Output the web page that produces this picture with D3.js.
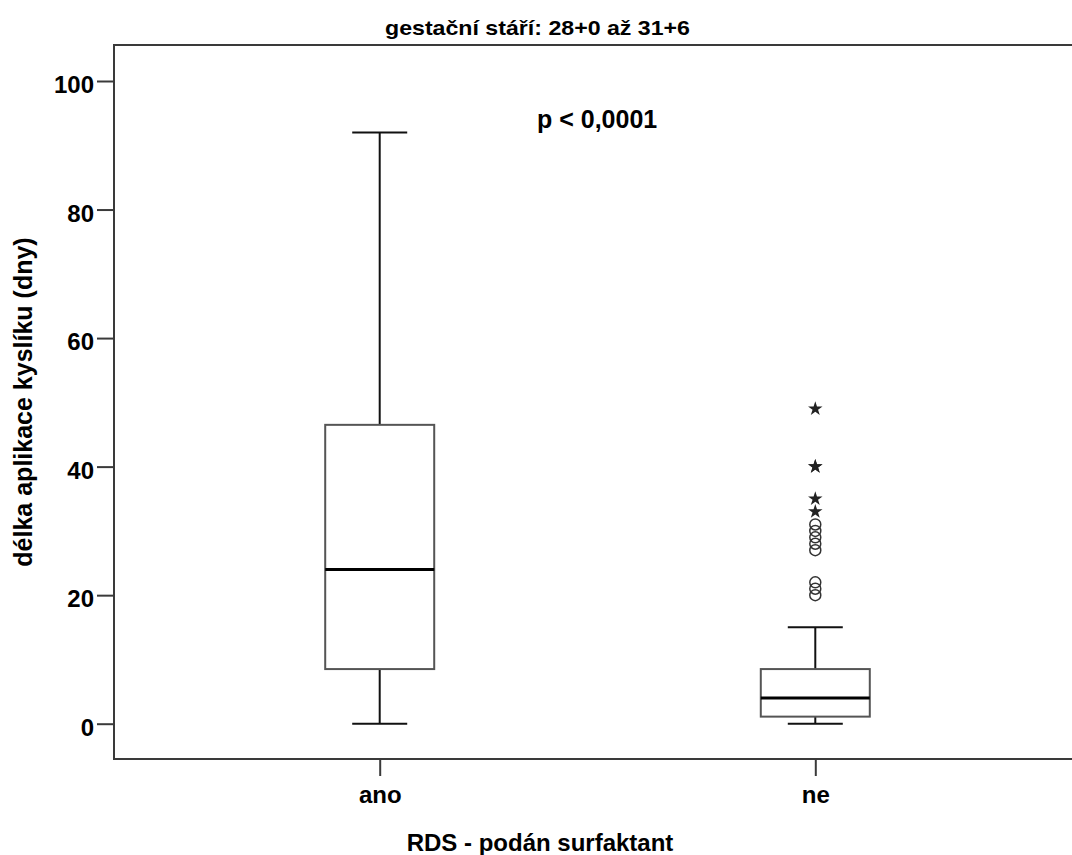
<!DOCTYPE html>
<html>
<head>
<meta charset="utf-8">
<script src="https://cdn.jsdelivr.net/npm/d3@7"></script>
<style>
  body { margin: 0; background: #fff; }
  svg { display: block; font-family: "Liberation Sans", Arial, sans-serif; font-weight: bold; }
</style>
</head>
<body>
<svg id="chart" width="1072" height="855"></svg>
<script>
// data
const groups = ['ano', 'ne'];
const boxMin = [0, 0];
const boxQ1 = [8.5, 1.1];
const boxMedian = [24, 4];
const boxQ3 = [46.5, 8.5];
const boxMax = [92, 15];
const circleOutliers = [20, 21, 22, 27, 28, 29, 30, 31];   // group 'ne'
const starOutliers = [33, 35, 40, 40, 49];                  // group 'ne'
const yTicks = [0, 20, 40, 60, 80, 100];

const titleText = 'gestační stáří: 28+0 až 31+6';
const noteText = 'p < 0,0001';
const xLabel = 'RDS - podán surfaktant';
const yLabel = 'délka aplikace kyslíku (dny)';

const LEFT = 114, TOP = 45, BOTTOM = 759, RIGHT = 1081;
const BOXW = 109, CAPW = 55, TICK = 17;

const svg = d3.select('#chart');

const y = d3.scaleLinear().domain([0, 100]).range([723.7, 81]);
const x = d3.scalePoint().domain(groups).range([LEFT, RIGHT]).padding(0.61);

const boxes = groups.map((g, i) => ({
  g, min: boxMin[i], q1: boxQ1[i], med: boxMedian[i], q3: boxQ3[i], max: boxMax[i]
}));

// frame
svg.append('rect')
  .attr('x', LEFT).attr('y', TOP)
  .attr('width', RIGHT - LEFT + 20).attr('height', BOTTOM - TOP)
  .attr('fill', 'none').attr('stroke', '#3a3a3a').attr('stroke-width', 2);

// y axis
const yAxis = svg.append('g')
  .attr('transform', `translate(${LEFT},0)`)
  .call(d3.axisLeft(y).tickValues(yTicks).tickSize(TICK).tickPadding(3).tickSizeOuter(0));
yAxis.select('.domain').remove();
yAxis.selectAll('.tick line').attr('stroke', '#3a3a3a').attr('stroke-width', 2);
yAxis.selectAll('.tick text')
  .attr('font-size', 24).attr('font-family', '"Liberation Sans", Arial, sans-serif')
  .attr('font-weight', 'bold').attr('fill', '#000')
  .attr('dy', '0.7em').attr('y', -5);

// x axis
const xAxis = svg.append('g')
  .attr('transform', `translate(0,${BOTTOM})`)
  .call(d3.axisBottom(x).tickSize(TICK).tickPadding(10).tickSizeOuter(0));
xAxis.select('.domain').remove();
xAxis.selectAll('.tick line').attr('stroke', '#3a3a3a').attr('stroke-width', 2);
xAxis.selectAll('.tick text')
  .attr('font-size', 24).attr('font-family', '"Liberation Sans", Arial, sans-serif')
  .attr('font-weight', 'bold').attr('fill', '#000');

// boxes
const bg = svg.selectAll('g.box').data(boxes).join('g').attr('class', 'box');

bg.append('line')
  .attr('x1', d => x(d.g)).attr('x2', d => x(d.g))
  .attr('y1', d => y(d.max)).attr('y2', d => y(d.q3))
  .attr('stroke', '#111').attr('stroke-width', 2);
bg.append('line')
  .attr('x1', d => x(d.g)).attr('x2', d => x(d.g))
  .attr('y1', d => y(d.q1)).attr('y2', d => y(d.min))
  .attr('stroke', '#111').attr('stroke-width', 2);
bg.append('line')
  .attr('x1', d => x(d.g) - CAPW / 2).attr('x2', d => x(d.g) + CAPW / 2)
  .attr('y1', d => y(d.max)).attr('y2', d => y(d.max))
  .attr('stroke', '#111').attr('stroke-width', 2);
bg.append('line')
  .attr('x1', d => x(d.g) - CAPW / 2).attr('x2', d => x(d.g) + CAPW / 2)
  .attr('y1', d => y(d.min)).attr('y2', d => y(d.min))
  .attr('stroke', '#111').attr('stroke-width', 2);
bg.append('rect')
  .attr('x', d => x(d.g) - BOXW / 2).attr('width', BOXW)
  .attr('y', d => y(d.q3)).attr('height', d => y(d.q1) - y(d.q3))
  .attr('fill', '#fff').attr('stroke', '#555').attr('stroke-width', 2);
bg.append('line')
  .attr('x1', d => x(d.g) - BOXW / 2).attr('x2', d => x(d.g) + BOXW / 2)
  .attr('y1', d => y(d.med)).attr('y2', d => y(d.med))
  .attr('stroke', '#000').attr('stroke-width', 3);

// outliers
svg.selectAll('circle.out').data(circleOutliers).join('circle')
  .attr('class', 'out')
  .attr('cx', x('ne')).attr('cy', d => y(d)).attr('r', 5.5)
  .attr('fill', 'none').attr('stroke', '#333').attr('stroke-width', 1.5);

svg.selectAll('path.star').data(starOutliers).join('path')
  .attr('class', 'star')
  .attr('transform', d => `translate(${x('ne')},${y(d)})`)
  .attr('d', d3.symbol(d3.symbolStar, 65))
  .attr('fill', '#222');

// texts
svg.append('text')
  .attr('x', 537.5).attr('y', 35)
  .attr('text-anchor', 'middle').attr('font-size', 21)
  .attr('textLength', 305).attr('lengthAdjust', 'spacingAndGlyphs')
  .text(titleText);

svg.append('text')
  .attr('x', 537).attr('y', 128)
  .attr('font-size', 25)
  .text(noteText);

svg.append('text')
  .attr('x', 540).attr('y', 851)
  .attr('text-anchor', 'middle').attr('font-size', 24)
  .text(xLabel);

svg.append('text')
  .attr('transform', 'translate(32,402) rotate(-90)')
  .attr('text-anchor', 'middle').attr('font-size', 25)
  .text(yLabel);
</script>
</body>
</html>
